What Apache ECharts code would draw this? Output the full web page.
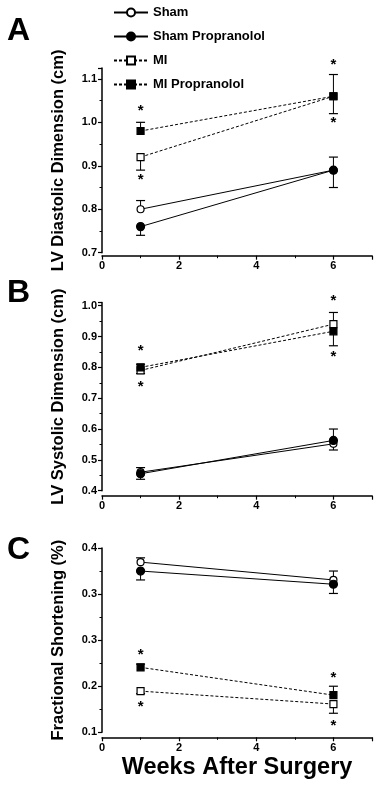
<!DOCTYPE html>
<html>
<head>
<meta charset="utf-8">
<script src="https://cdn.jsdelivr.net/npm/echarts@6/dist/echarts.min.js"></script>
<style>
html, body { margin: 0; padding: 0; background: #fff; }
#chart { width: 381px; height: 787px; }
</style>
</head>
<body>
<div id="chart"></div>
<script>
// weeks after surgery
var weeks = [1, 6];
var groupNames = ['Sham', 'Sham Propranolol', 'MI', 'MI Propranolol'];

// A - LV diastolic dimension (cm)
var diaSham = [0.80, 0.89];
var diaShamProp = [0.76, 0.89];
var diaMI = [0.92, 1.06];
var diaMIProp = [0.98, 1.06];
// error bar ends (one side only, as drawn)
var diaShamErr = [0.82, 0.92];
var diaShamPropErr = [0.74, 0.85];
var diaMIErr = [0.89, 1.02];
var diaMIPropErr = [1.00, 1.11];
var diaStars = [[1, 1.033], [1, 0.875], [6, 1.14], [6, 1.006]];

// B - LV systolic dimension (cm)
var sysSham = [0.46, 0.552];
var sysShamProp = [0.455, 0.563];
var sysMI = [0.79, 0.94];
var sysMIProp = [0.80, 0.917];
var sysShamErr = [0.475, 0.532];
var sysShamPropErr = [0.437, 0.60];
var sysMIErr = [0.78, 0.978];
var sysMIPropErr = [0.81, 0.87];
var sysStars = [[1, 0.864], [1, 0.746], [6, 1.025], [6, 0.844]];

// C - fractional shortening
var fsSham = [0.377, 0.348];
var fsShamProp = [0.3625, 0.341];
var fsMI = [0.167, 0.146];
var fsMIProp = [0.2057, 0.1605];
var fsShamErr = [0.384, 0.3625];
var fsShamPropErr = [0.348, 0.326];
var fsMIErr = [0.163, 0.131];
var fsMIPropErr = [0.211, 0.175];
var fsStars = [[1, 0.231], [1, 0.147], [6, 0.193], [6, 0.1155]];

var xTicks = [0, 2, 4, 6];

var dom = document.getElementById('chart');
var myChart = echarts.init(dom);

var FONT = '"Liberation Sans", Arial, sans-serif';

var panels = [
    { top: 68, height: 184.7, min: 0.7, max: 1.125, iv: 0.1, off: 3, name: 'LV Diastolic Dimension (cm)',
      vals: [diaSham, diaShamProp, diaMI, diaMIProp], errs: [diaShamErr, diaShamPropErr, diaMIErr, diaMIPropErr], stars: diaStars },
    { top: 302.6, height: 188.1, min: 0.4, max: 1.01, iv: 0.1, off: 5, name: 'LV Systolic Dimension (cm)',
      vals: [sysSham, sysShamProp, sysMI, sysMIProp], errs: [sysShamErr, sysShamPropErr, sysMIErr, sysMIPropErr], stars: sysStars },
    { top: 548, height: 184.3, min: 0.1, max: 0.4, iv: 0.075, off: 5, name: 'Fractional Shortening (%)',
      vals: [fsSham, fsShamProp, fsMI, fsMIProp], errs: [fsShamErr, fsShamPropErr, fsMIErr, fsMIPropErr], stars: fsStars }
];

var styles = [
    { symbol: 'circle', size: 7, fill: '#fff', dash: 'solid' },
    { symbol: 'circle', size: 8, fill: '#000', dash: 'solid' },
    { symbol: 'rect', size: 7, fill: '#fff', dash: [3, 2] },
    { symbol: 'rect', size: 7, fill: '#000', dash: [3, 2] }
];

function errRender(params, api) {
    var x = api.value(0);
    var p0 = api.coord([x, api.value(1)]);
    var p1 = api.coord([x, api.value(2)]);
    return {
        type: 'group',
        children: [
            { type: 'line', shape: { x1: p0[0], y1: p0[1], x2: p1[0], y2: p1[1] }, style: { stroke: '#000', lineWidth: 1 } },
            { type: 'line', shape: { x1: p1[0] - 4.5, y1: p1[1], x2: p1[0] + 4.5, y2: p1[1] }, style: { stroke: '#000', lineWidth: 1.2 } }
        ]
    };
}

function starRender(params, api) {
    var p = api.coord([api.value(0), api.value(1)]);
    return {
        type: 'text',
        x: p[0], y: p[1] + 3,
        style: { text: '*', font: 'bold 15px ' + FONT, fill: '#000', align: 'center', verticalAlign: 'middle' }
    };
}

var grids = [], xAxes = [], yAxes = [], series = [];

panels.forEach(function (pn, k) {
    grids.push({ left: 102, width: 270, top: pn.top, height: pn.height });
    xAxes.push({
        gridIndex: k, type: 'value', min: 0, max: 7, interval: 2, offset: pn.off,
        axisLine: { lineStyle: { color: '#000', width: 1.5 } },
        axisTick: { length: 4, lineStyle: { color: '#000', width: 1.2 } },
        minorTick: { show: true, splitNumber: 2, length: 2.5, lineStyle: { color: '#000', width: 1 } },
        splitLine: { show: false },
        axisLabel: {
            color: '#000', fontWeight: 'bold', fontSize: 11, fontFamily: FONT, margin: 5,
            formatter: function (v) { return xTicks.indexOf(v) >= 0 ? String(v) : ''; }
        },
        name: k === 2 ? 'Weeks After Surgery' : '',
        nameLocation: 'middle', nameGap: 18,
        nameTextStyle: { color: '#000', fontWeight: 'bold', fontSize: 23.5, fontFamily: FONT }
    });
    yAxes.push({
        gridIndex: k, type: 'value', min: pn.min, max: pn.max, interval: pn.iv,
        axisLine: { show: true, lineStyle: { color: '#000', width: 1.5 } },
        axisTick: { show: true, length: 4, lineStyle: { color: '#000', width: 1.2 } },
        minorTick: { show: true, splitNumber: 2, length: 2.5, lineStyle: { color: '#000', width: 1 } },
        splitLine: { show: false },
        axisLabel: {
            color: '#000', fontWeight: 'bold', fontSize: 11, fontFamily: FONT, margin: 5,
            formatter: function (v) {
                var n = (v - pn.min) / pn.iv;
                return Math.abs(n - Math.round(n)) < 1e-6 && Math.round(n) * pn.iv + pn.min <= pn.max + 1e-9
                    ? (pn.min + Math.round(n) * pn.iv).toFixed(1) : '';
            }
        },
        name: pn.name, nameLocation: 'middle', nameGap: 35,
        nameTextStyle: { color: '#000', fontWeight: 'bold', fontSize: 16.5, fontFamily: FONT }
    });

    // error bars
    series.push({
        type: 'custom', xAxisIndex: k, yAxisIndex: k, z: 1, silent: true,
        renderItem: errRender,
        data: pn.errs.reduce(function (acc, e, i) {
            return acc.concat(weeks.map(function (w, j) { return [w, pn.vals[i][j], e[j]]; }));
        }, [])
    });

    pn.vals.forEach(function (vals, i) {
        var st = styles[i];
        series.push({
            name: groupNames[i], type: 'line', xAxisIndex: k, yAxisIndex: k, z: 3,
            data: weeks.map(function (w, j) { return [w, vals[j]]; }),
            symbol: st.symbol, symbolSize: st.size, showAllSymbol: true,
            lineStyle: { color: '#000', width: 1, type: st.dash },
            itemStyle: { color: st.fill, borderColor: '#000', borderWidth: 1.2 },
            emphasis: { disabled: true },
            animation: false
        });
    });

    // significance stars
    series.push({
        type: 'custom', xAxisIndex: k, yAxisIndex: k, z: 4, silent: true, clip: false,
        renderItem: starRender,
        data: pn.stars
    });
});

var option = {
    backgroundColor: '#fff',
    animation: false,
    textStyle: { fontFamily: FONT },
    legend: {
        orient: 'vertical', left: 108, top: 1,
        itemWidth: 34, itemHeight: 10, itemGap: 11,
        data: groupNames,
        textStyle: { color: '#000', fontWeight: 'bold', fontSize: 13, fontFamily: FONT },
        selectedMode: false
    },
    graphic: [
        { type: 'text', left: 7, top: 15, style: { text: 'A', font: 'bold 32px ' + FONT, fill: '#000' } },
        { type: 'text', left: 7, top: 277, style: { text: 'B', font: 'bold 32px ' + FONT, fill: '#000' } },
        { type: 'text', left: 7, top: 534, style: { text: 'C', font: 'bold 32px ' + FONT, fill: '#000' } }
    ],
    grid: grids,
    xAxis: xAxes,
    yAxis: yAxes,
    series: series
};

myChart.setOption(option);
</script>
</body>
</html>
